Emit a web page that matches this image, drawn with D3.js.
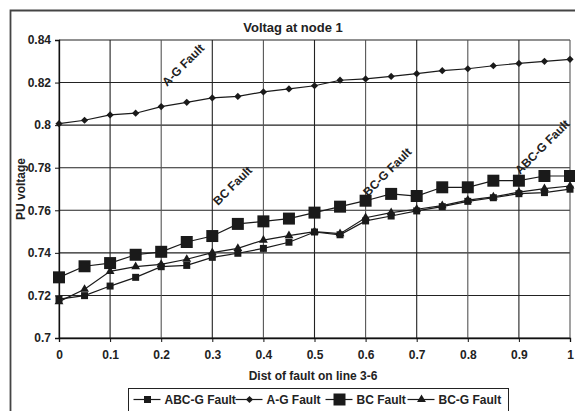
<!DOCTYPE html>
<html>
<head>
<meta charset="utf-8">
<script src="https://cdn.jsdelivr.net/npm/d3@7"></script>
<style>
  body { margin: 0; background: #fff; }
  svg { display: block; font-family: "Liberation Sans", Arial, sans-serif; font-weight: bold; }
</style>
</head>
<body>
<div class="chart"></div>
<script>
// values
const dist = [0, 0.05, 0.1, 0.15, 0.2, 0.25, 0.3, 0.35, 0.4, 0.45, 0.5,
  0.55, 0.6, 0.65, 0.7, 0.75, 0.8, 0.85, 0.9, 0.95, 1];
const abcgFault = [0.7183, 0.7199, 0.7244, 0.7285, 0.7335, 0.7341, 0.7379, 0.7398, 0.7421, 0.745, 0.7498,
  0.7485, 0.755, 0.7573, 0.7597, 0.7617, 0.7642, 0.7659, 0.7678, 0.7683, 0.7699];
const agFault = [0.8007, 0.8023, 0.8048, 0.8056, 0.8087, 0.8107, 0.8128, 0.8135, 0.8156, 0.817, 0.8185,
  0.8211, 0.8217, 0.8229, 0.8242, 0.8256, 0.8265, 0.8279, 0.829, 0.83, 0.8309];
const bcFault = [0.7285, 0.7337, 0.7352, 0.7391, 0.7405, 0.7451, 0.7479, 0.7536, 0.7548, 0.7561, 0.7589,
  0.7617, 0.7645, 0.7677, 0.7667, 0.7708, 0.7708, 0.7739, 0.7739, 0.7761, 0.7761];
const bcgFault = [0.7171, 0.7229, 0.7313, 0.7335, 0.7346, 0.737, 0.7401, 0.7421, 0.746, 0.7481, 0.75,
  0.749, 0.7565, 0.7589, 0.7605, 0.7622, 0.7648, 0.7663, 0.7685, 0.7702, 0.7714];
const seriesNames = ["ABC-G Fault", "A-G Fault", "BC Fault", "BC-G Fault"];
const xTicks = [0, 0.1, 0.2, 0.3, 0.4, 0.5, 0.6, 0.7, 0.8, 0.9, 1];
const yTicks = [0.7, 0.72, 0.74, 0.76, 0.78, 0.8, 0.82, 0.84];

const width = 575;
const height = 411;
const margin = { left: 59, right: 5, top: 40, bottom: 73 };

const svg = d3.select(".chart").append("svg")
  .attr("width", width)
  .attr("height", height);

// outer frame (runs off the right and bottom edge)
svg.append("path")
  .attr("d", "M10.5,420 V10.5 H580")
  .attr("fill", "none")
  .attr("stroke", "#444")
  .attr("stroke-width", 1.8);

const x = d3.scaleLinear().domain([0, 1]).range([margin.left, width - margin.right]);
const y = d3.scaleLinear().domain([0.7, 0.84]).range([height - margin.bottom, margin.top]);

// grid
svg.append("g")
  .selectAll("line")
  .data(yTicks)
  .enter()
  .append("line")
  .attr("x1", x(0)).attr("x2", x(1))
  .attr("y1", (d) => y(d)).attr("y2", (d) => y(d))
  .attr("stroke", "#222")
  .attr("stroke-width", 1.1);

svg.append("g")
  .selectAll("line")
  .data(xTicks)
  .enter()
  .append("line")
  .attr("x1", (d) => x(d)).attr("x2", (d) => x(d))
  .attr("y1", y(0.7)).attr("y2", y(0.84))
  .attr("stroke", (d, i) => (i % 2 ? "#222" : "#555"))
  .attr("stroke-width", 1.1);

// axes
const yAxis = svg.append("g")
  .attr("transform", `translate(${x(0)},0)`)
  .call(d3.axisLeft(y).tickValues(yTicks).tickSize(4).tickPadding(4).tickFormat((d) => d3.format("")(+d.toFixed(2))));
const xAxis = svg.append("g")
  .attr("transform", `translate(0,${y(0.7)})`)
  .call(d3.axisBottom(x).tickValues(xTicks).tickSize(4).tickPadding(8).tickFormat((d) => d3.format("")(+d.toFixed(1))));

[xAxis, yAxis].forEach((a) => {
  a.select(".domain").attr("stroke", "#111").attr("stroke-width", 1.3);
  a.selectAll(".tick line").attr("stroke", "#111");
  a.selectAll("text")
    .attr("fill", "#222")
    .style("font-size", "12px")
    .style("font-family", "'Liberation Sans', Arial, sans-serif")
    .style("font-weight", "bold");
});

// titles
svg.append("text")
  .attr("x", 293)
  .attr("y", 32)
  .attr("text-anchor", "middle")
  .style("font-size", "13px")
  .attr("fill", "#222")
  .text("Voltag at node 1");

svg.append("text")
  .attr("x", 313)
  .attr("y", 380)
  .attr("text-anchor", "middle")
  .style("font-size", "12px")
  .attr("fill", "#222")
  .text("Dist of fault on line 3-6");

svg.append("text")
  .attr("transform", "translate(25,189) rotate(-90)")
  .attr("text-anchor", "middle")
  .style("font-size", "12px")
  .attr("fill", "#222")
  .text("PU voltage");

// rotated notes on the plot
const notes = [
  { text: "A-G Fault", x: 167, y: 87 },
  { text: "BC Fault", x: 218, y: 206 },
  { text: "BC-G Fault", x: 368, y: 197 },
  { text: "ABC-G Fault", x: 520, y: 175 }
];
svg.append("g")
  .selectAll("text")
  .data(notes)
  .enter()
  .append("text")
  .attr("transform", (d) => `translate(${d.x},${d.y}) rotate(-45)`)
  .style("font-size", "12px")
  .attr("fill", "#222")
  .text((d) => d.text);

// series
const markers = [
  { type: d3.symbolSquare, size: 49, rot: 0 },
  { type: d3.symbolSquare, size: 26, rot: 45 },
  { type: d3.symbolSquare, size: 144, rot: 0 },
  { type: d3.symbolTriangle, size: 34, rot: 0 }
];
const allSeries = [abcgFault, agFault, bcFault, bcgFault];

const line = d3.line()
  .x((d, i) => x(dist[i]))
  .y((d) => y(d));

allSeries.forEach((values, k) => {
  svg.append("path")
    .datum(values)
    .attr("d", line)
    .attr("fill", "none")
    .attr("stroke", "#1a1a1a")
    .attr("stroke-width", 1.2);
});

allSeries.forEach((values, k) => {
  const m = markers[k];
  svg.append("g")
    .selectAll("path")
    .data(values)
    .enter()
    .append("path")
    .attr("d", d3.symbol().type(m.type).size(m.size))
    .attr("transform", (d, i) => `translate(${x(dist[i])},${y(d)}) rotate(${m.rot})`)
    .attr("fill", "#1a1a1a");
});

// legend
const legend = svg.append("g").attr("transform", "translate(128.5,388.5)");
legend.append("rect")
  .attr("width", 380)
  .attr("height", 40)
  .attr("fill", "#fff")
  .attr("stroke", "#222")
  .attr("stroke-width", 1);

const legendX = [5, 107, 197, 279];
const item = legend.selectAll("g.item")
  .data(seriesNames)
  .enter()
  .append("g")
  .attr("class", "item")
  .attr("transform", (d, i) => `translate(${legendX[i]},11)`);

item.append("line")
  .attr("x1", 0).attr("x2", 27)
  .attr("stroke", "#1a1a1a")
  .attr("stroke-width", 1.2);

item.append("path")
  .attr("d", (d, i) => d3.symbol().type(markers[i].type).size(markers[i].size)())
  .attr("transform", (d, i) => `translate(14,0) rotate(${markers[i].rot})`)
  .attr("fill", "#1a1a1a");

item.append("text")
  .attr("x", 31)
  .attr("y", 4.5)
  .style("font-size", "12px")
  .attr("fill", "#222")
  .text((d) => d);
</script>
</body>
</html>
